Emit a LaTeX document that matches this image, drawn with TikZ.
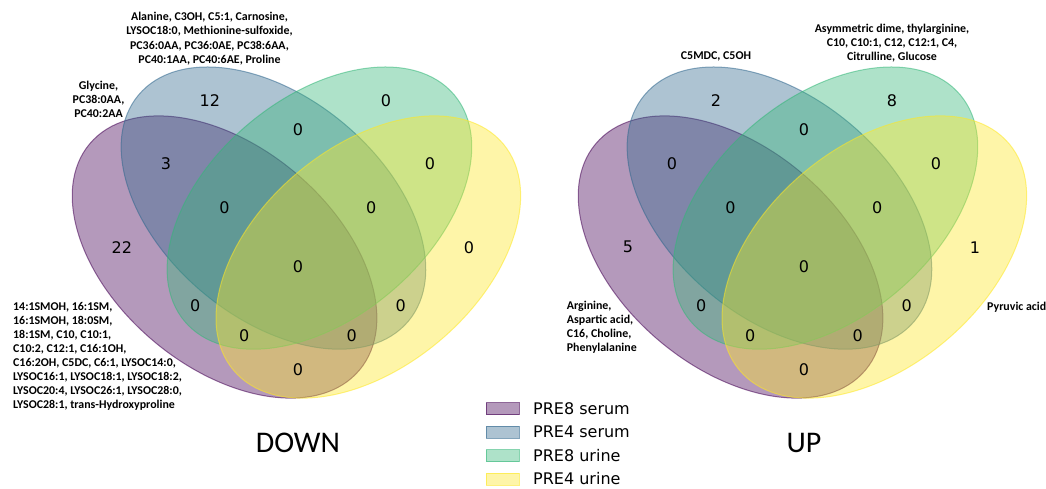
\documentclass[tikz,border=0pt]{standalone}
\usepackage{fontspec}
\newfontfamily\dejavu{DejaVu Sans}
\newfontfamily\carlito{Carlito}
\definecolor{vpurple}{RGB}{68,1,84}
\definecolor{vblue}{RGB}{49,104,142}
\definecolor{vgreen}{RGB}{53,183,121}
\definecolor{vyellow}{RGB}{253,231,37}
\tikzset{
  vset/.style={fill=#1, draw=#1, fill opacity=0.4, draw opacity=0.55, line width=1pt},
  num/.style={font=\dejavu\fontsize{16}{18}\selectfont, inner sep=0pt},
  ann/.style={font=\carlito\bfseries\fontsize{11.9}{14}\selectfont, inner sep=0pt},
  title/.style={font=\carlito\fontsize{30}{34}\selectfont, inner sep=0pt},
  legbox/.style={fill=#1, draw=#1, fill opacity=0.4, draw opacity=0.6, line width=1pt, minimum width=33pt, minimum height=12pt, inner sep=0pt},
  legtext/.style={font=\dejavu\fontsize{16}{18}\selectfont, inner sep=0pt, anchor=west},
}
\begin{document}
\begin{tikzpicture}[x=1pt,y=1pt]
\useasboundingbox (0,0) rectangle (1046,488);
% ---------- DOWN ----------
\begin{scope}[shift={(53.4pt,35.4pt)}, x=489pt, y=489pt]
  \begin{scope}[shift={(0.350,0.400)}, rotate=140]
    \path[vset=vpurple] (0,0) ellipse [x radius=0.36, y radius=0.225];
  \end{scope}
  \begin{scope}[shift={(0.450,0.500)}, rotate=140]
    \path[vset=vblue] (0,0) ellipse [x radius=0.36, y radius=0.225];
  \end{scope}
  \begin{scope}[shift={(0.544,0.500)}, rotate=40]
    \path[vset=vgreen] (0,0) ellipse [x radius=0.36, y radius=0.225];
  \end{scope}
  \begin{scope}[shift={(0.644,0.400)}, rotate=40]
    \path[vset=vyellow] (0,0) ellipse [x radius=0.36, y radius=0.225];
  \end{scope}
  \node[num] (d0001) at (0.85,0.42) {0};
  \node[num] (d0010) at (0.68,0.72) {0};
  \node[num] (d0011) at (0.77,0.59) {0};
  \node[num] (d0100) at (0.32,0.72) {12};
  \node[num] (d0101) at (0.71,0.30) {0};
  \node[num] (d0110) at (0.50,0.66) {0};
  \node[num] (d0111) at (0.65,0.50) {0};
  \node[num] (d1000) at (0.14,0.42) {22};
  \node[num] (d1001) at (0.50,0.17) {0};
  \node[num] (d1010) at (0.29,0.30) {0};
  \node[num] (d1011) at (0.39,0.24) {0};
  \node[num] (d1100) at (0.23,0.59) {3};
  \node[num] (d1101) at (0.61,0.24) {0};
  \node[num] (d1110) at (0.35,0.50) {0};
  \node[num] (d1111) at (0.50,0.38) {0};
\end{scope}
% ---------- UP ----------
\begin{scope}[shift={(559.4pt,35.4pt)}, x=489pt, y=489pt]
  \begin{scope}[shift={(0.350,0.400)}, rotate=140]
    \path[vset=vpurple] (0,0) ellipse [x radius=0.36, y radius=0.225];
  \end{scope}
  \begin{scope}[shift={(0.450,0.500)}, rotate=140]
    \path[vset=vblue] (0,0) ellipse [x radius=0.36, y radius=0.225];
  \end{scope}
  \begin{scope}[shift={(0.544,0.500)}, rotate=40]
    \path[vset=vgreen] (0,0) ellipse [x radius=0.36, y radius=0.225];
  \end{scope}
  \begin{scope}[shift={(0.644,0.400)}, rotate=40]
    \path[vset=vyellow] (0,0) ellipse [x radius=0.36, y radius=0.225];
  \end{scope}
  \node[num] (u0001) at (0.85,0.42) {1};
  \node[num] (u0010) at (0.68,0.72) {8};
  \node[num] (u0011) at (0.77,0.59) {0};
  \node[num] (u0100) at (0.32,0.72) {2};
  \node[num] (u0101) at (0.71,0.30) {0};
  \node[num] (u0110) at (0.50,0.66) {0};
  \node[num] (u0111) at (0.65,0.50) {0};
  \node[num] (u1000) at (0.14,0.42) {5};
  \node[num] (u1001) at (0.50,0.17) {0};
  \node[num] (u1010) at (0.29,0.30) {0};
  \node[num] (u1011) at (0.39,0.24) {0};
  \node[num] (u1100) at (0.23,0.59) {0};
  \node[num] (u1101) at (0.61,0.24) {0};
  \node[num] (u1110) at (0.35,0.50) {0};
  \node[num] (u1111) at (0.50,0.38) {0};
\end{scope}
% ---------- annotations ----------
\node[ann, align=center, font=\carlito\bfseries\fontsize{11.9}{14.5}\selectfont] (aDtop) at (209.5,449.4)
  {Alanine, C3OH, C5:1, Carnosine,\\LYSOC18:0, Methionine-sulfoxide,\\PC36:0AA, PC36:0AE, PC38:6AA,\\PC40:1AA, PC40:6AE, Proline};
\node[ann, align=center] (aDgly) at (98.5,388.2)
  {Glycine,\\PC38:0AA,\\PC40:2AA};
\node[ann, align=left, anchor=west] (aDbot) at (13,132)
  {14:1SMOH, 16:1SM,\\16:1SMOH, 18:0SM,\\18:1SM, C10, C10:1,\\C10:2, C12:1, C16:1OH,\\C16:2OH, C5DC, C6:1, LYSOC14:0,\\LYSOC16:1, LYSOC18:1, LYSOC18:2,\\LYSOC20:4, LYSOC26:1, LYSOC28:0,\\LYSOC28:1, trans-Hydroxyproline};
\node[ann] (aUblue) at (716,431.3) {C5MDC, C5OH};
\node[ann, align=center] (aUgreen) at (892,445.3)
  {Asymmetric dime, thylarginine,\\C10, C10:1, C12, C12:1, C4,\\Citrulline, Glucose};
\node[ann, align=left, anchor=west] (aUpur) at (566.7,160.3)
  {Arginine,\\Aspartic acid,\\C16, Choline,\\Phenylalanine};
\node[ann, anchor=west] (aUyel) at (987,181) {Pyruvic acid};
% ---------- titles ----------
\node[title] (tdown) at (298,44.7) {DOWN};
\node[title] (tup) at (804,44.7) {UP};
% ---------- legend ----------
\node[legbox=vpurple] (lb1) at (502.5,79.5) {};
\node[legbox=vblue]   (lb2) at (502.5,56) {};
\node[legbox=vgreen]  (lb3) at (502.5,32.5) {};
\node[legbox=vyellow] (lb4) at (502.5,9) {};
\node[legtext] (lt1) at (533,79.5) {PRE8 serum};
\node[legtext] (lt2) at (533,56) {PRE4 serum};
\node[legtext] (lt3) at (533,32.5) {PRE8 urine};
\node[legtext] (lt4) at (533,9) {PRE4 urine};
\end{tikzpicture}
\end{document}
